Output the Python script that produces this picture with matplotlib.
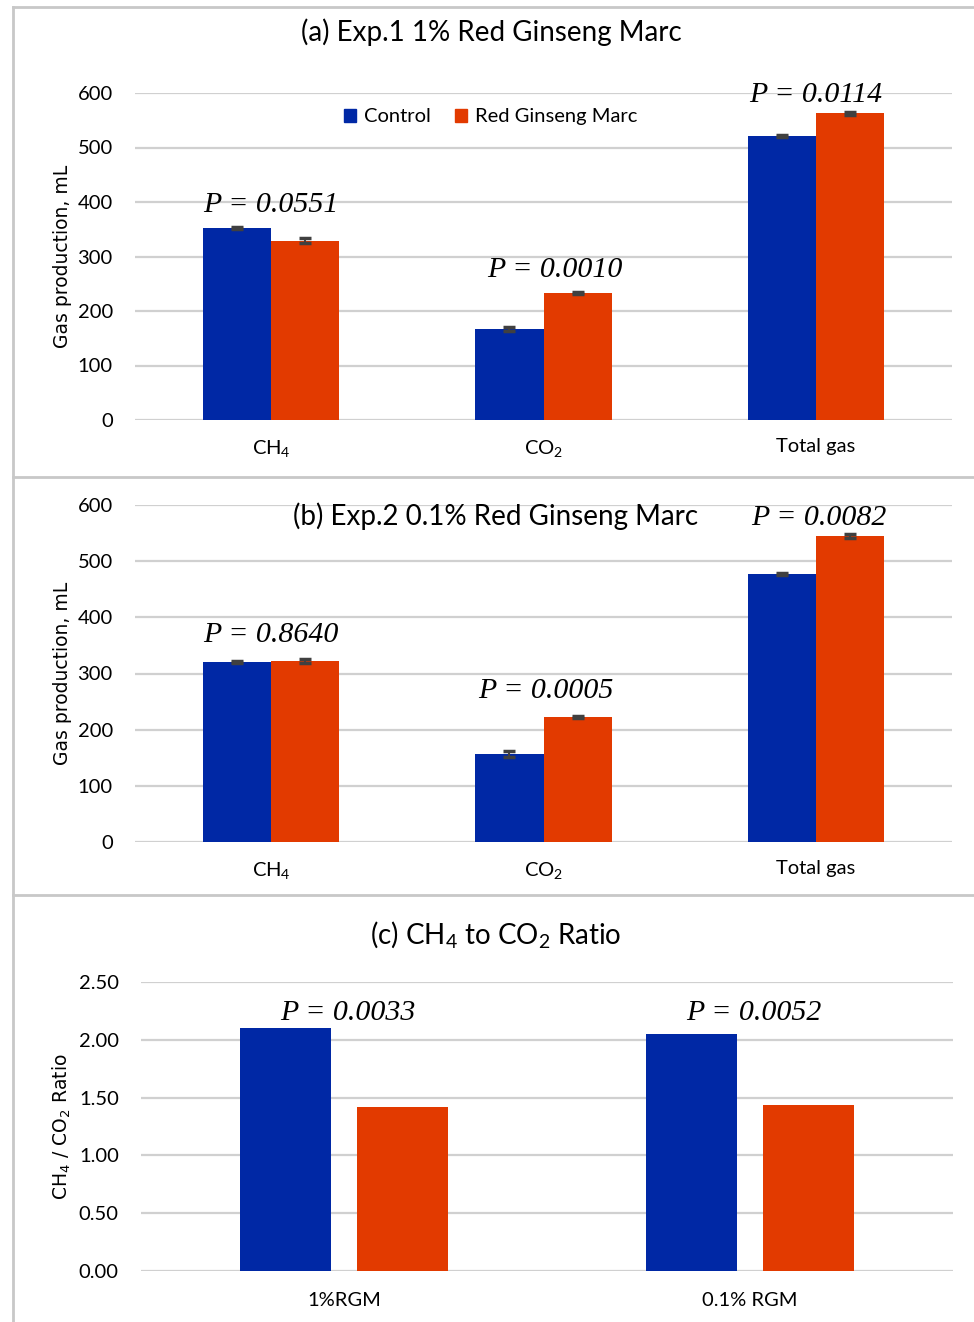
import matplotlib.pyplot as plt
import numpy as np
from matplotlib.lines import Line2D
from matplotlib.patches import Patch

plt.rcParams['font.family'] = ['Lato', 'DejaVu Sans']
plt.rcParams['mathtext.default'] = 'regular'

# data
gases = ['CH$_4$', 'CO$_2$', 'Total gas']
exp1_control = [353, 167, 521]
exp1_control_err = [2, 4, 2]
exp1_rgm = [329, 233, 563]
exp1_rgm_err = [5, 2, 3]
exp1_p = ['0.0551', '0.0010', '0.0114']

exp2_control = [320, 157, 477]
exp2_control_err = [2, 5, 2]
exp2_rgm = [322, 222, 545]
exp2_rgm_err = [4, 2, 3]
exp2_p = ['0.8640', '0.0005', '0.0082']

ratio_groups = ['1%RGM', '0.1% RGM']
ratio_control = [2.10, 2.05]
ratio_rgm = [1.42, 1.44]
ratio_p = ['0.0033', '0.0052']

BLUE = '#0028a5'
RED = '#e23a00'
GRID = '#d0d0d0'

W, H = 974, 1322
fig = plt.figure(figsize=(W / 100, H / 100), dpi=100)


def px_axes(x0, x1, ytop, ybot):
    return fig.add_axes([x0 / W, 1 - ybot / H, (x1 - x0) / W, (ybot - ytop) / H])


def style(ax):
    for s in ax.spines.values():
        s.set_visible(False)
    ax.grid(True, axis='y', color=GRID, lw=1.6)
    ax.set_axisbelow(True)
    ax.tick_params(length=0, labelsize=14.5, colors='black')
    ax.tick_params(axis='x', pad=13)
    ax.tick_params(axis='y', pad=16)


def pval(ax, x, y, p):
    ax.text(x, y, f'P = {p}', ha='center', va='center', fontsize=21.5,
            family='Liberation Serif', style='italic')


def gas_panel(ax, ctrl, cerr, rgm, rerr, pvals, ppos):
    x = np.arange(len(gases))
    w = 0.25
    ek = dict(ecolor='#404040', elinewidth=1.5, capsize=4, capthick=2.5)
    ax.bar(x - w / 2, ctrl, w, color=BLUE, yerr=cerr, error_kw=ek, label='Control')
    ax.bar(x + w / 2, rgm, w, color=RED, yerr=rerr, error_kw=ek, label='Red Ginseng Marc')
    ax.set_xlim(-0.5, 2.5)
    ax.set_ylim(0, 600)
    ax.set_yticks(range(0, 601, 100))
    ax.set_xticks(x)
    ax.set_xticklabels(gases)
    ax.set_ylabel('Gas production, mL', family='DejaVu Sans', fontsize=13.5, labelpad=4)
    style(ax)
    for p, (px, py) in zip(pvals, ppos):
        pval(ax, px, py, p)


# (a)
ax1 = px_axes(135, 952, 93, 420)
gas_panel(ax1, exp1_control, exp1_control_err, exp1_rgm, exp1_rgm_err, exp1_p,
          [(0.0, 394), (1.04, 275), (2.0, 596)])
handles = [Patch(color=BLUE), Patch(color=RED)]
ax1.legend(handles, ['Control', 'Red Ginseng Marc'], loc='center', bbox_to_anchor=(0.435, 0.927),
           ncol=2, frameon=False, fontsize=14.5, handlelength=0.6, handleheight=0.6,
           handletextpad=0.4, columnspacing=1.2)
fig.text(491 / W, 1 - 32 / H, '(a) Exp.1 1% Red Ginseng Marc', ha='center', va='center', fontsize=20)

# (b)
ax2 = px_axes(135, 952, 505, 842)
gas_panel(ax2, exp2_control, exp2_control_err, exp2_rgm, exp2_rgm_err, exp2_p,
          [(0.0, 368), (1.01, 269), (2.01, 577)])
fig.text(496 / W, 1 - 516 / H, '(b) Exp.2 0.1% Red Ginseng Marc', ha='center', va='center', fontsize=20)

# (c)
ax3 = px_axes(141, 953, 982, 1271)
xr = np.arange(len(ratio_groups))
ax3.bar(xr - 0.143, ratio_control, 0.224, color=BLUE)
ax3.bar(xr + 0.143, ratio_rgm, 0.224, color=RED)
ax3.set_xlim(-0.5, 1.5)
ax3.set_ylim(0, 2.5)
ax3.set_yticks(np.arange(0, 2.51, 0.5))
ax3.set_yticklabels([f'{v:.2f}' for v in np.arange(0, 2.51, 0.5)])
ax3.set_xticks(xr)
ax3.set_xticklabels(ratio_groups)
ax3.set_ylabel('CH$_4$ / CO$_2$ Ratio', family='DejaVu Sans', fontsize=13.5, labelpad=4)
style(ax3)
ax3.tick_params(axis='x', pad=15)
for i, p in enumerate(ratio_p):
    pval(ax3, i + 0.01, 2.23, p)
fig.text(496 / W, 1 - 934 / H, '(c) CH$_4$ to CO$_2$ Ratio', ha='center', va='center', fontsize=20)

# panel frames
fc = '#c8c8c8'
fig.add_artist(Line2D([13 / W, 13 / W], [0, 1 - 7 / H], color=fc, lw=2))
for yy in [7, 477, 895]:
    fig.add_artist(Line2D([13 / W, 1], [1 - yy / H, 1 - yy / H], color=fc, lw=2))

fig.savefig('out.png', dpi=100)
